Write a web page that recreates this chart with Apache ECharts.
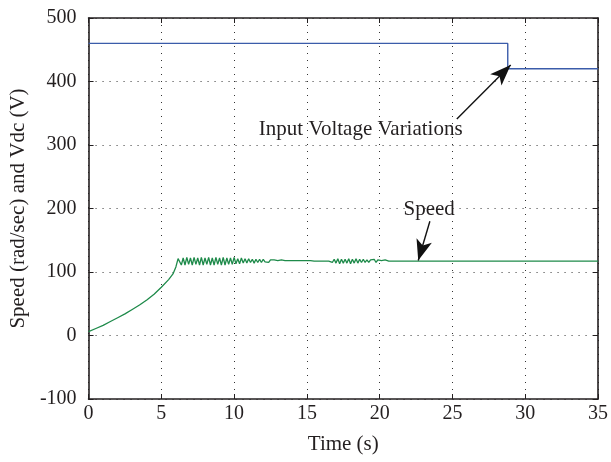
<!DOCTYPE html>
<html><head><meta charset="utf-8">
<script src="https://cdn.jsdelivr.net/npm/echarts@6/dist/echarts.min.js"></script>
<style>html,body{margin:0;padding:0;background:#fff}#c{width:611px;height:462px}</style>
</head><body><div id="c"></div>
<script>
// Input voltage (Vdc)
const voltTime = [0, 28.8, 28.8, 35];
const voltValue = [460, 460, 420, 420];
// Speed: start-up ramp
const riseTime = [0, 0.5, 1, 1.5, 2, 2.5, 3, 3.5, 4, 4.5, 5, 5.5, 5.8, 6.0, 6.15];
const riseValue = [6, 11, 16, 22, 28, 34, 41, 48, 56, 65, 76, 88, 97, 108, 121];
// Speed: ripple region sampled every 0.125 s from 6.25 s
const oscStart = 6.25, oscStep = 0.125;
const oscValue = [
  123,111,122,111,123,112,122,111,123,112,122,111,123,111,122,112,123,111,122,111,
  123,112,122,111,123,111,122,112,122,112,123,113,121,113,122,114,121,114,121,
  115,120,114,120,115,120,115,120,116,119,115,119,116,119,116,118,116,119,116,118,
  117,118,116,118,117,118,116,118,117,118,117,118,
  117,118,117,117,118,117,117,117,118,117,117,117,
  119,115,120,114,121,113,120,114,120,114,121,113,120,114,121,114,120,115,120,115,
  119,115,119,116,120,115,119,116,118,116,119,116
];
// Speed: steady state
const tailTime = [20.625, 35];
const tailValue = [117, 117];
const xTicks = {min: 0, max: 35, interval: 5};
const yTicks = {min: -100, max: 500, interval: 100};

const speedData = [];
riseTime.forEach((t, i) => speedData.push([t, riseValue[i]]));
oscValue.forEach((v, i) => speedData.push([oscStart + i * oscStep, v]));
tailTime.forEach((t, i) => speedData.push([t, tailValue[i]]));
const voltData = voltTime.map((t, i) => [t, voltValue[i]]);

const font = '"Liberation Serif","DejaVu Serif",serif';
const ink = '#231f20';
const chart = echarts.init(document.getElementById('c'));
const gridLine = {show: true, lineStyle: {color: '#333', type: [1, 6], width: 1}};
const frameLine = {show: true, onZero: false, lineStyle: {color: ink, width: 1.6}};
const tick = {show: true, inside: true, length: 5, lineStyle: {color: ink, width: 1}};
const arrowEnd = {symbol: 'arrow', symbolSize: [12, 21]};
chart.setOption({
  animation: false,
  grid: {left: 84, right: 9, top: 18, bottom: 63},
  xAxis: [{
    type: 'value', min: xTicks.min, max: xTicks.max, interval: xTicks.interval,
    name: 'Time (s)', nameLocation: 'middle', nameGap: 35,
    nameTextStyle: {fontFamily: font, fontSize: 21, color: ink},
    axisLine: frameLine, axisTick: tick,
    axisLabel: {fontFamily: font, fontSize: 20, color: ink, margin: 5},
    splitLine: gridLine
  }, {
    type: 'value', position: 'top', min: xTicks.min, max: xTicks.max, interval: xTicks.interval,
    axisLine: frameLine, axisTick: tick,
    axisLabel: {show: false}, splitLine: {show: false}
  }],
  yAxis: [{
    type: 'value', min: yTicks.min, max: yTicks.max, interval: yTicks.interval,
    name: 'Speed (rad/sec) and Vdc (V)', nameLocation: 'middle', nameGap: 59,
    nameTextStyle: {fontFamily: font, fontSize: 21, color: ink},
    axisLine: frameLine, axisTick: tick,
    axisLabel: {fontFamily: font, fontSize: 20, color: ink, margin: 12},
    splitLine: gridLine
  }, {
    type: 'value', position: 'right', min: yTicks.min, max: yTicks.max, interval: yTicks.interval,
    axisLine: frameLine, axisTick: tick,
    axisLabel: {show: false}, splitLine: {show: false}
  }],
  series: [{
    type: 'line', data: voltData, showSymbol: false,
    lineStyle: {color: '#3b5caa', width: 1.4}, z: 3,
    markLine: {
      silent: true, symbol: ['none', 'arrow'], symbolSize: 18,
      lineStyle: {color: '#111', width: 1.4, type: 'solid'},
      itemStyle: {color: '#111'}, label: {show: false},
      data: [
        [{coord: [25.3, 341], symbol: 'none'}, Object.assign({coord: [29.0, 426]}, arrowEnd)],
        [{coord: [23.45, 180], symbol: 'none'}, Object.assign({coord: [22.65, 118]}, arrowEnd)]
      ]
    },
    markPoint: {
      silent: true, symbol: 'circle', symbolSize: 0,
      data: [
        {coord: [18.7, 324], label: {show: true, formatter: 'Input Voltage Variations', fontFamily: font, fontSize: 21, color: ink, position: 'inside'}},
        {coord: [23.4, 198], label: {show: true, formatter: 'Speed', fontFamily: font, fontSize: 21, color: ink, position: 'inside'}}
      ]
    }
  }, {
    type: 'line', data: speedData, showSymbol: false,
    lineStyle: {color: '#1e8a4a', width: 1.3}, z: 3
  }]
});
</script></body></html>
